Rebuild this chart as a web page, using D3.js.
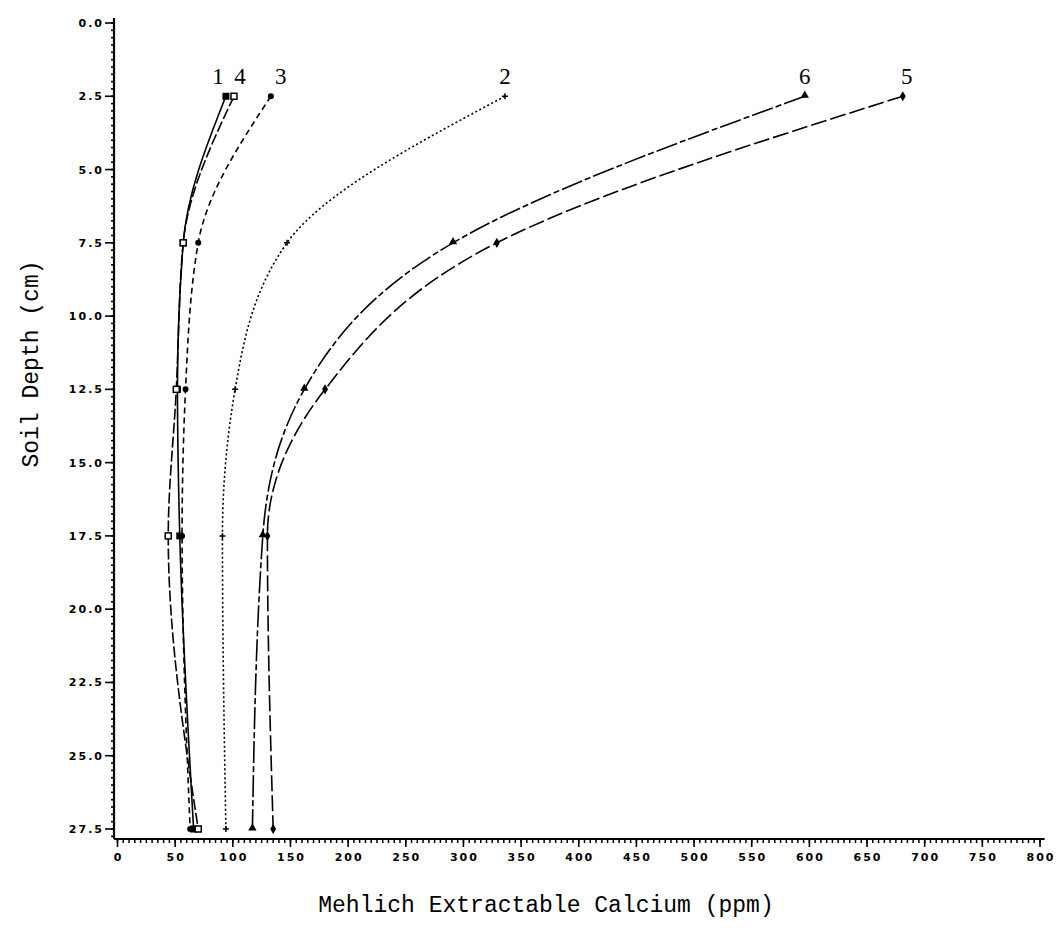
<!DOCTYPE html>
<html lang="en">
<head>
    <meta charset="UTF-8">
    <title>Mehlich Extractable Calcium</title>
    <script src="https://d3js.org/d3.v7.min.js"></script>
    <style>
        body { margin: 0; background: #fff; }
        .tick-label { font-family: "DejaVu Sans", sans-serif; font-weight: bold; font-size: 11px; letter-spacing: 2px; }
        .axis-title { font-family: "Liberation Mono", monospace; font-size: 23px; }
        .series-label { font-family: "Liberation Serif", serif; font-size: 23px; }
    </style>
</head>
<body>
    <svg width="1060" height="935"></svg>
    <script>
        // depths sampled (cm)
        const depths = [2.5, 7.5, 12.5, 17.5, 27.5];

        // calcium (ppm) per treatment
        const s1 = [94, 57, 52, 54, 66];
        const s2 = [336, 147, 102, 91, 94];
        const s3 = [133, 70, 59, 56, 63];
        const s4 = [101, 57, 51, 44, 70];
        const s5 = [681, 329, 180, 130, 135];
        const s6 = [596, 291, 162, 126, 117];

        const xTicks = d3.range(0, 801, 50);
        const yTicks = d3.range(0, 27.6, 2.5);

        const series = [
            { name: "1", values: s1, dash: null, marker: "square" },
            { name: "2", values: s2, dash: "2,2.5", marker: "plus" },
            { name: "3", values: s3, dash: "6,4", marker: "circle" },
            { name: "4", values: s4, dash: "11,3", marker: "opensquare" },
            { name: "5", values: s5, dash: "16,4", marker: "diamond" },
            { name: "6", values: s6, dash: "22,3,6,3", marker: "triangle" }
        ];

        const svg = d3.select("svg");

        const x = d3.scaleLinear().domain([0, 800]).range([117.5, 1040]);
        const y = d3.scaleLinear().domain([0, 27.5]).range([23, 829]);

        const axisX0 = 114, axisY0 = 839;

        // axes lines
        svg.append("line")
            .attr("x1", axisX0).attr("x2", axisX0)
            .attr("y1", 18).attr("y2", axisY0)
            .attr("stroke", "black").attr("stroke-width", 2.2);
        svg.append("line")
            .attr("x1", axisX0).attr("x2", x(804))
            .attr("y1", axisY0).attr("y2", axisY0)
            .attr("stroke", "black").attr("stroke-width", 2.2);

        // y ticks
        const yMinor = d3.range(0, 27.76, 0.25);
        svg.append("g").selectAll("line").data(yMinor).enter().append("line")
            .attr("x1", axisX0 - 3).attr("x2", axisX0)
            .attr("y1", d => y(d)).attr("y2", d => y(d))
            .attr("stroke", "black").attr("stroke-width", 1.6);
        svg.append("g").selectAll("line").data(yTicks).enter().append("line")
            .attr("x1", axisX0 - 9).attr("x2", axisX0)
            .attr("y1", d => y(d)).attr("y2", d => y(d))
            .attr("stroke", "black").attr("stroke-width", 1.6);
        svg.append("g").selectAll("text").data(yTicks).enter().append("text")
            .attr("class", "tick-label")
            .attr("x", axisX0 - 10).attr("y", d => y(d) + 4)
            .attr("text-anchor", "end")
            .text(d => d.toFixed(1));

        // x ticks
        const xMinor = d3.range(0, 801, 5);
        svg.append("g").selectAll("line").data(xMinor).enter().append("line")
            .attr("x1", d => x(d)).attr("x2", d => x(d))
            .attr("y1", axisY0).attr("y2", axisY0 + 4)
            .attr("stroke", "black").attr("stroke-width", 1.5);
        svg.append("g").selectAll("line").data(xTicks).enter().append("line")
            .attr("x1", d => x(d)).attr("x2", d => x(d))
            .attr("y1", axisY0).attr("y2", axisY0 + 8)
            .attr("stroke", "black").attr("stroke-width", 1.6);
        svg.append("g").selectAll("text").data(xTicks).enter().append("text")
            .attr("class", "tick-label")
            .attr("x", d => x(d) + 1).attr("y", axisY0 + 22)
            .attr("text-anchor", "middle")
            .text(d => d);

        // axis titles
        svg.append("text").attr("class", "axis-title")
            .attr("x", 546).attr("y", 912)
            .attr("text-anchor", "middle")
            .text("Mehlich Extractable Calcium (ppm)");
        svg.append("text").attr("class", "axis-title")
            .attr("transform", "translate(38,364) rotate(-90)")
            .attr("text-anchor", "middle")
            .text("Soil Depth (cm)");

        // curves
        const line = d3.line()
            .x(d => x(d[1]))
            .y(d => y(d[0]))
            .curve(d3.curveMonotoneY);

        series.forEach(function (s) {
            const pts = depths.map((d, i) => [d, s.values[i]]);
            svg.append("path")
                .datum(pts)
                .attr("d", line)
                .attr("fill", "none")
                .attr("stroke", "black")
                .attr("stroke-width", 1.6)
                .attr("stroke-dasharray", s.dash);

            const g = svg.append("g");
            pts.forEach(function (p) {
                const cx = x(p[1]), cy = y(p[0]);
                if (s.marker === "square") {
                    g.append("rect").attr("x", cx - 3.5).attr("y", cy - 3.5)
                        .attr("width", 7).attr("height", 7).attr("fill", "black");
                } else if (s.marker === "opensquare") {
                    g.append("rect").attr("x", cx - 3).attr("y", cy - 3)
                        .attr("width", 6).attr("height", 6)
                        .attr("fill", "white").attr("stroke", "black").attr("stroke-width", 1.5);
                } else if (s.marker === "circle") {
                    g.append("circle").attr("cx", cx).attr("cy", cy).attr("r", 3).attr("fill", "black");
                } else if (s.marker === "plus") {
                    g.append("path").attr("d", `M${cx - 3},${cy}H${cx + 3}M${cx},${cy - 3}V${cy + 3}`)
                        .attr("stroke", "black").attr("stroke-width", 1.5);
                } else if (s.marker === "diamond") {
                    g.append("path").attr("d", d3.symbol(d3.symbolDiamond, 30)())
                        .attr("transform", `translate(${cx},${cy})`).attr("fill", "black");
                } else if (s.marker === "triangle") {
                    g.append("path").attr("d", d3.symbol(d3.symbolTriangle, 30)())
                        .attr("transform", `translate(${cx},${cy - 1})`).attr("fill", "black");
                }
            });
        });

        // series numbers above the top points
        const labelPos = { "1": -8, "2": 0, "3": 10, "4": 6, "5": 4, "6": 0 };
        series.forEach(function (s) {
            svg.append("text").attr("class", "series-label")
                .attr("x", x(s.values[0]) + labelPos[s.name])
                .attr("y", y(depths[0]) - 12)
                .attr("text-anchor", "middle")
                .text(s.name);
        });
    </script>
</body>
</html>
